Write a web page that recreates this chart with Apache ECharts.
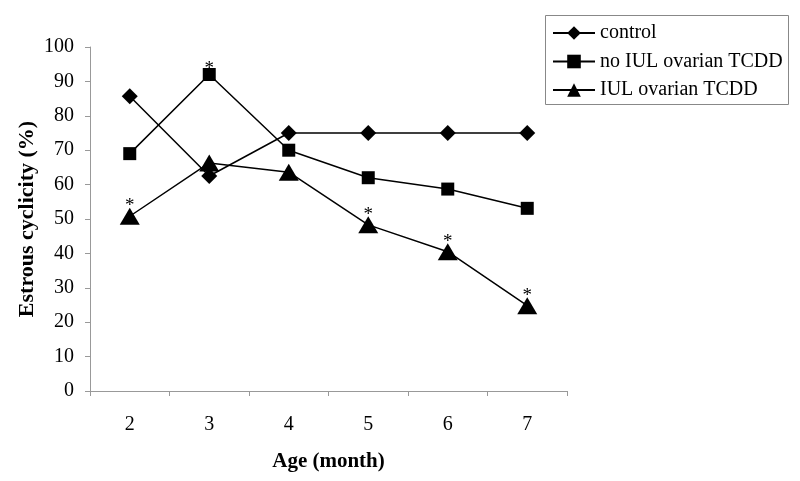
<!DOCTYPE html>
<html><head><meta charset="utf-8">
<script src="https://cdn.jsdelivr.net/npm/echarts@6/dist/echarts.min.js"></script>
<style>html,body{margin:0;padding:0;background:#fff}#c{width:800px;height:481px}</style>
</head><body><div id="c"></div>
<script>
const categories = ['2','3','4','5','6','7'];
const seriesNames = ['control','no IUL ovarian TCDD','IUL ovarian TCDD'];
const control = [85.7, 62.5, 75, 75, 75, 75];
const noIUL = [69, 92, 70, 62, 58.7, 53.1];
const iul = [50.8, 66.3, 63.6, 48.3, 40.5, 24.8];
const sigControl = [false,false,false,false,false,false];
const sigNoIUL = [false,true,false,false,false,false];
const sigIUL = [true,false,false,true,true,true];
const yTicks = [0,10,20,30,40,50,60,70,80,90,100];

const FONT = "'Liberation Serif','Times New Roman',serif";
function mk(vals, sig, off){
  return vals.map((v,i)=> sig[i] ? {value:v, label:{show:true, formatter:'*', position:'top', distance:0, offset:[0,off], fontFamily:FONT, fontSize:19, color:'#000'}} : v);
}
const chart = echarts.init(document.getElementById('c'), null, {renderer:'canvas'});
const lineStyle = {color:'#000', width:1.5};
chart.setOption({
  animation:false,
  backgroundColor:'#fff',
  grid:{left:90, right:233, top:47, bottom:90},
  legend:{
    orient:'vertical', left:552, top:23, padding:0, itemWidth:42, itemHeight:17, itemGap:8.5,
    textStyle:{fontFamily:FONT, fontSize:20, lineHeight:20, color:'#000'},
    data:seriesNames
  },
  graphic:[{type:'rect', shape:{x:545.5, y:15.5, width:243, height:89}, style:{fill:'none', stroke:'#888', lineWidth:1}, z:-1}],
  xAxis:{
    type:'category', data:categories, boundaryGap:true,
    name:'Age (month)', nameLocation:'middle', nameGap:60,
    nameTextStyle:{fontFamily:FONT, fontSize:21, fontWeight:'bold', color:'#000'},
    axisLine:{lineStyle:{color:'#999', width:1}},
    axisTick:{show:true, length:5, lineStyle:{color:'#999'}},
    axisLabel:{fontFamily:FONT, fontSize:20, color:'#000', margin:24}
  },
  yAxis:{
    type:'value', min:0, max:100, interval:10,
    name:'Estrous cyclicity (%)', nameLocation:'middle', nameGap:52, nameMoveOverlap:false,
    nameTextStyle:{fontFamily:FONT, fontSize:22, fontWeight:'bold', color:'#000'},
    axisLine:{show:true, lineStyle:{color:'#999', width:1}},
    axisTick:{show:true, length:5, lineStyle:{color:'#999'}},
    splitLine:{show:false},
    axisLabel:{fontFamily:FONT, fontSize:20, color:'#000', margin:16,
      formatter:v=> yTicks.includes(v) ? String(v) : ''}
  },
  series:[
    {name:seriesNames[0], type:'line', data:mk(control,sigControl,0), symbol:'diamond', symbolSize:16,
      itemStyle:{color:'#000'}, lineStyle:lineStyle},
    {name:seriesNames[1], type:'line', data:mk(noIUL,sigNoIUL,10), symbol:'rect', symbolSize:13,
      itemStyle:{color:'#000'}, lineStyle:lineStyle},
    {name:seriesNames[2], type:'line', data:mk(iul,sigIUL,8), symbol:'triangle', symbolSize:[20,17],
      itemStyle:{color:'#000'}, lineStyle:lineStyle}
  ]
});
</script></body></html>
